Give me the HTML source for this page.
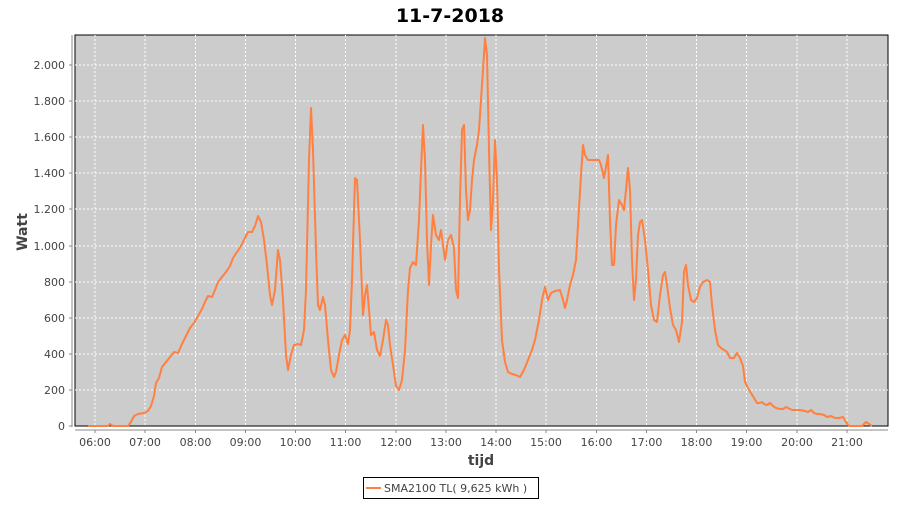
<!DOCTYPE html>
<html><head><meta charset="utf-8"><style>
body{margin:0;background:#fff;width:900px;height:500px;overflow:hidden}
text{font-family:"DejaVu Sans","Liberation Sans",sans-serif}
</style></head><body>
<svg width="900" height="500" xmlns="http://www.w3.org/2000/svg">
<text x="450" y="22" text-anchor="middle" font-size="19" font-weight="bold" fill="#000">11-7-2018</text>
<rect x="75" y="35" width="813" height="391" fill="#cccccc" stroke="#000" stroke-width="1"/>
<g stroke="#fff" stroke-dasharray="2,2" stroke-width="1">
<line x1="75" x2="888" y1="390" y2="390"/><line x1="75" x2="888" y1="354" y2="354"/><line x1="75" x2="888" y1="318" y2="318"/><line x1="75" x2="888" y1="282" y2="282"/><line x1="75" x2="888" y1="246" y2="246"/><line x1="75" x2="888" y1="209" y2="209"/><line x1="75" x2="888" y1="173" y2="173"/><line x1="75" x2="888" y1="137" y2="137"/><line x1="75" x2="888" y1="101" y2="101"/><line x1="75" x2="888" y1="65" y2="65"/>
<line y1="35" y2="426" x1="95" x2="95"/><line y1="35" y2="426" x1="145" x2="145"/><line y1="35" y2="426" x1="195.5" x2="195.5"/><line y1="35" y2="426" x1="245.5" x2="245.5"/><line y1="35" y2="426" x1="295.5" x2="295.5"/><line y1="35" y2="426" x1="345.5" x2="345.5"/><line y1="35" y2="426" x1="396" x2="396"/><line y1="35" y2="426" x1="446" x2="446"/><line y1="35" y2="426" x1="496" x2="496"/><line y1="35" y2="426" x1="546" x2="546"/><line y1="35" y2="426" x1="596.5" x2="596.5"/><line y1="35" y2="426" x1="646.5" x2="646.5"/><line y1="35" y2="426" x1="696.5" x2="696.5"/><line y1="35" y2="426" x1="746.5" x2="746.5"/><line y1="35" y2="426" x1="797" x2="797"/><line y1="35" y2="426" x1="847" x2="847"/>
</g>
<g stroke="#888" stroke-width="1">
<line x1="72" y1="35" x2="72" y2="427"/><line x1="75" y1="430" x2="888" y2="430"/>
<line x1="69" x2="72" y1="426" y2="426"/><line x1="69" x2="72" y1="390" y2="390"/><line x1="69" x2="72" y1="354" y2="354"/><line x1="69" x2="72" y1="318" y2="318"/><line x1="69" x2="72" y1="282" y2="282"/><line x1="69" x2="72" y1="246" y2="246"/><line x1="69" x2="72" y1="209" y2="209"/><line x1="69" x2="72" y1="173" y2="173"/><line x1="69" x2="72" y1="137" y2="137"/><line x1="69" x2="72" y1="101" y2="101"/><line x1="69" x2="72" y1="65" y2="65"/>
<line y1="430" y2="433" x1="95" x2="95"/><line y1="430" y2="433" x1="145" x2="145"/><line y1="430" y2="433" x1="195.5" x2="195.5"/><line y1="430" y2="433" x1="245.5" x2="245.5"/><line y1="430" y2="433" x1="295.5" x2="295.5"/><line y1="430" y2="433" x1="345.5" x2="345.5"/><line y1="430" y2="433" x1="396" x2="396"/><line y1="430" y2="433" x1="446" x2="446"/><line y1="430" y2="433" x1="496" x2="496"/><line y1="430" y2="433" x1="546" x2="546"/><line y1="430" y2="433" x1="596.5" x2="596.5"/><line y1="430" y2="433" x1="646.5" x2="646.5"/><line y1="430" y2="433" x1="696.5" x2="696.5"/><line y1="430" y2="433" x1="746.5" x2="746.5"/><line y1="430" y2="433" x1="797" x2="797"/><line y1="430" y2="433" x1="847" x2="847"/>
</g>
<g font-size="11" fill="#444" text-anchor="end">
<text x="65" y="430">0</text><text x="65" y="394">200</text><text x="65" y="358">400</text><text x="65" y="322">600</text><text x="65" y="286">800</text><text x="65" y="250">1.000</text><text x="65" y="213">1.200</text><text x="65" y="177">1.400</text><text x="65" y="141">1.600</text><text x="65" y="105">1.800</text><text x="65" y="69">2.000</text>
</g>
<g font-size="11" fill="#444" text-anchor="middle">
<text x="95" y="446">06:00</text><text x="145" y="446">07:00</text><text x="195.5" y="446">08:00</text><text x="245.5" y="446">09:00</text><text x="295.5" y="446">10:00</text><text x="345.5" y="446">11:00</text><text x="396" y="446">12:00</text><text x="446" y="446">13:00</text><text x="496" y="446">14:00</text><text x="546" y="446">15:00</text><text x="596.5" y="446">16:00</text><text x="646.5" y="446">17:00</text><text x="696.5" y="446">18:00</text><text x="746.5" y="446">19:00</text><text x="797" y="446">20:00</text><text x="847" y="446">21:00</text>
</g>
<text x="481" y="465" text-anchor="middle" font-size="14" font-weight="bold" fill="#444">tijd</text>
<text transform="translate(27,232) rotate(-90)" text-anchor="middle" font-size="14" font-weight="bold" fill="#444">Watt</text>
<polyline fill="none" stroke="#ff8040" stroke-width="2" stroke-linejoin="round" points="88,426 108,426 110,424 113,426 128,426 131,422 134,416 138,414 144,413 148,411 151,406 154,396 156,383 159,378 162,367 166,362 170,357 174,352 178,353 182,344 186,336 190,328 194,323 198,316 202,309 205,302 208,296 212,297 215,290 218,282 222,277 226,272 230,266 233,258 237,252 241,246 245,238 248,232 252,232 255,226 258,216 261,222 264,240 267,265 270,295 272,305 275,290 278,250 280,260 283,300 286,355 288,370 291,355 294,345 298,344 301,345 304,330 306,290 309,160 311,108 313,150 316,250 318,305 320,310 323,297 325,305 328,340 331,370 334,377 336,372 339,355 342,340 345,335 348,344 350,330 352,280 355,178 357,180 360,240 363,315 365,295 367,285 369,310 371,335 374,332 377,350 380,356 383,340 386,320 388,325 390,345 393,365 396,386 399,390 402,380 405,350 408,290 410,268 413,262 416,265 419,220 421,170 423,125 425,160 427,240 429,285 431,245 433,215 436,235 439,240 441,230 443,245 445,260 448,240 451,235 454,248 456,290 458,298 460,200 462,130 464,125 466,190 468,220 470,210 472,180 474,160 477,145 479,130 481,100 483,70 485,38 487,55 489,150 491,230 493,200 495,140 497,180 499,270 502,340 505,362 508,372 512,374 516,375 520,377 524,370 528,360 532,350 535,340 539,320 542,300 545,287 548,300 551,293 555,291 560,290 563,300 565,308 567,300 570,285 573,275 576,260 578,225 581,175 583,145 585,155 588,160 592,160 596,160 599,160 601,165 604,178 606,167 608,155 610,220 612,265 614,265 616,225 619,200 622,205 624,210 626,190 628,168 630,190 632,260 634,300 636,280 638,235 640,222 642,220 645,240 648,270 651,305 654,320 657,322 660,295 663,275 665,272 667,285 670,308 673,325 676,330 679,342 682,322 684,272 686,265 688,285 691,300 694,302 697,298 700,287 703,282 707,280 710,282 712,305 715,330 718,345 721,348 724,350 727,352 730,358 734,358 737,353 740,358 743,366 745,382 748,388 751,393 754,398 757,403 760,403 762,402 764,404 767,405 770,403 773,406 776,408 780,409 783,409 786,407 788,408 792,410 796,410 800,410 805,411 808,412 811,410 814,413 817,414 820,414 824,415 827,417 831,416 835,418 839,418 843,417 846,422 849,426 862,426 866,422 869,424 872,426"/>
<rect x="363.5" y="477.5" width="175" height="21" fill="#fff" stroke="#000"/>
<line x1="366" x2="381" y1="488" y2="488" stroke="#ff8040" stroke-width="2"/>
<text x="384" y="492" font-size="11" fill="#444">SMA2100 TL( 9,625 kWh )</text>
</svg>
</body></html>
